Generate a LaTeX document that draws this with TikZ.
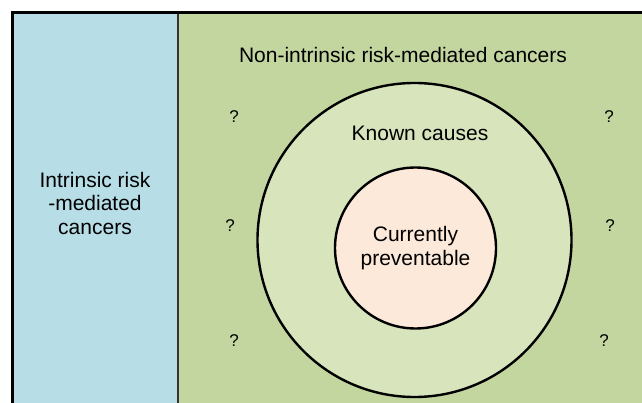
\documentclass[tikz,border=0pt]{standalone}
\usepackage{fontspec}
\setmainfont{Liberation Sans}
\usetikzlibrary{positioning}
\definecolor{intrinsic}{RGB}{183,221,231}
\definecolor{extrinsic}{RGB}{196,214,160}
\definecolor{known}{RGB}{216,228,188}
\definecolor{prevent}{RGB}{253,233,217}

\begin{document}
\begin{tikzpicture}[
    x=1pt, y=-1pt,
    every node/.style={font=\fontsize{21}{23.5}\selectfont, align=center},
    zone/.style={circle, draw=black, line width=2.4pt, inner sep=0pt},
    qmark/.style={font=\fontsize{17}{20}\selectfont}
]
    \useasboundingbox (0,0) rectangle (642,403);
    \clip (0,0) rectangle (642,403);

    % Background panels
    \fill[extrinsic] (12.5,13) rectangle (660,420);
    \fill[intrinsic] (12.5,13) rectangle (178,420);
    \draw[black!80, line width=1.5pt] (178,13) -- (178,420);
    \draw[black, line width=3pt] (12.5,420) -- (12.5,13) -- (660,13);

    % Circles
    \node[zone, fill=known, minimum size=314pt] (known) at (414.5,240) {};
    \node[zone, fill=prevent, minimum size=161pt] (prev) at (415.5,248) {};

    % Labels
    \node (intr) at (95,203) {Intrinsic risk\\-mediated\\cancers};
    \node (nonintr) at (403,55) {Non-intrinsic risk-mediated cancers};
    \node (kc) at (420,133) {Known causes};
    \node (cp) at (prev.center) {Currently\\preventable};

    % Unknowns
    \node[qmark] (q1) at (234,117) {?};
    \node[qmark] (q2) at (609,117) {?};
    \node[qmark] (q3) at (230,226) {?};
    \node[qmark] (q4) at (610,226) {?};
    \node[qmark] (q5) at (234,341) {?};
    \node[qmark] (q6) at (604,341) {?};
\end{tikzpicture}
\end{document}
